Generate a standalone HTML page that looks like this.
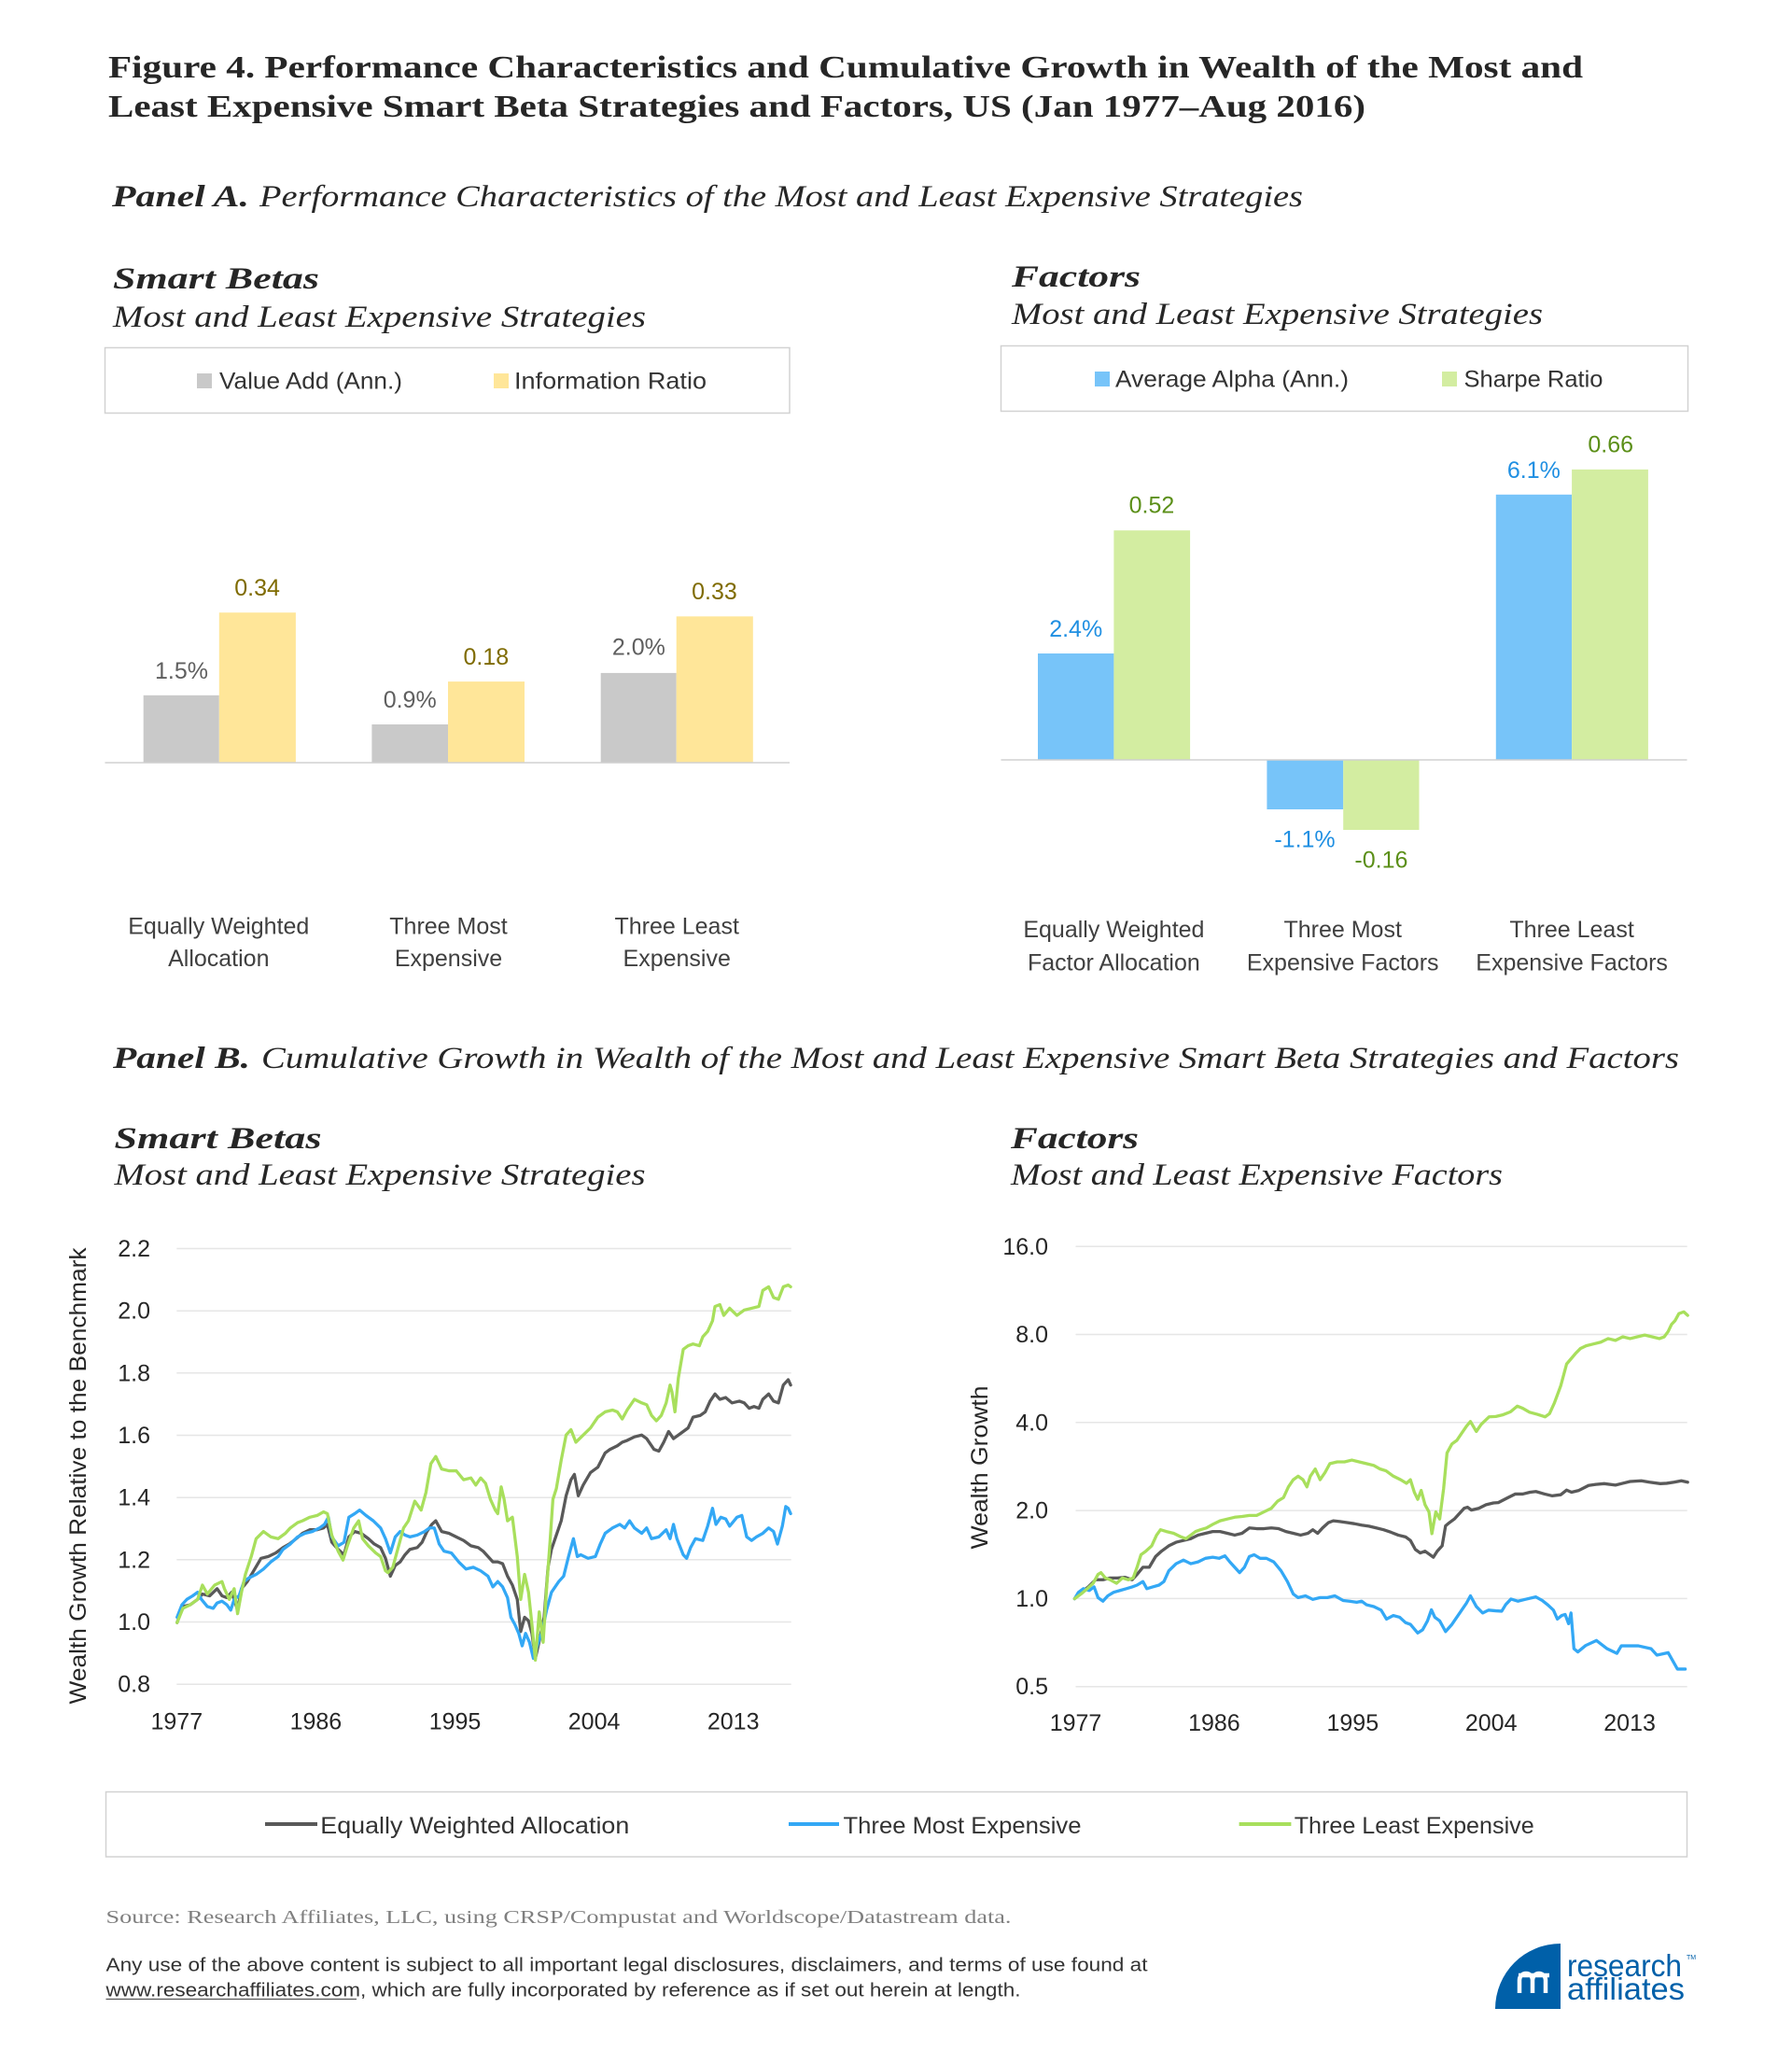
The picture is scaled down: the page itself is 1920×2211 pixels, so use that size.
<!DOCTYPE html>
<html><head><meta charset="utf-8"><style>
html,body{margin:0;padding:0;background:#fff;}
svg{display:block;}
.ser{font-family:"Liberation Serif",serif;fill:#262626;}
.sans{font-family:"Liberation Sans",sans-serif;}
</style></head><body>
<svg width="1920" height="2211" viewBox="0 0 1920 2211" xmlns="http://www.w3.org/2000/svg">
<rect width="1920" height="2211" fill="#fff"/>

<!-- Title -->
<text class="ser" x="116" y="83" font-size="34" font-weight="bold" textLength="1580" lengthAdjust="spacingAndGlyphs">Figure 4. Performance Characteristics and Cumulative Growth in Wealth of the Most and</text>
<text class="ser" x="116" y="125" font-size="34" font-weight="bold" textLength="1347" lengthAdjust="spacingAndGlyphs">Least Expensive Smart Beta Strategies and Factors, US (Jan 1977–Aug 2016)</text>

<!-- Panel A -->
<text class="ser" x="120" y="221" font-size="33" font-weight="bold" font-style="italic" textLength="147" lengthAdjust="spacingAndGlyphs">Panel A.</text>
<text class="ser" x="278" y="221" font-size="33" font-style="italic" textLength="1118" lengthAdjust="spacingAndGlyphs">Performance Characteristics of the Most and Least Expensive Strategies</text>

<text class="ser" x="121" y="309" font-size="33" font-weight="bold" font-style="italic" textLength="221" lengthAdjust="spacingAndGlyphs">Smart Betas</text>
<text class="ser" x="121" y="350" font-size="33" font-style="italic" textLength="571" lengthAdjust="spacingAndGlyphs">Most and Least Expensive Strategies</text>
<text class="ser" x="1084" y="307" font-size="33" font-weight="bold" font-style="italic" textLength="138" lengthAdjust="spacingAndGlyphs">Factors</text>
<text class="ser" x="1084" y="347" font-size="33" font-style="italic" textLength="569" lengthAdjust="spacingAndGlyphs">Most and Least Expensive Strategies</text>

<!-- Legend boxes panel A -->
<rect x="112.5" y="372.5" width="733.5" height="70" fill="#fff" stroke="#d2d2d2" stroke-width="1.5"/>
<rect x="211" y="400" width="16" height="16" fill="#c9c9c9"/>
<text class="sans" x="235" y="416.5" font-size="25" fill="#333" textLength="196" lengthAdjust="spacingAndGlyphs">Value Add (Ann.)</text>
<rect x="529" y="400" width="16" height="16" fill="#ffe699"/>
<text class="sans" x="551" y="416.5" font-size="25" fill="#333" textLength="206" lengthAdjust="spacingAndGlyphs">Information Ratio</text>

<rect x="1072.5" y="370.5" width="736" height="70" fill="#fff" stroke="#d2d2d2" stroke-width="1.5"/>
<rect x="1173" y="398" width="16" height="16" fill="#77c4f9"/>
<text class="sans" x="1195" y="414.5" font-size="25" fill="#333" textLength="250" lengthAdjust="spacingAndGlyphs">Average Alpha (Ann.)</text>
<rect x="1545" y="398" width="16" height="16" fill="#d3eda1"/>
<text class="sans" x="1568.5" y="414.5" font-size="25" fill="#333" textLength="149" lengthAdjust="spacingAndGlyphs">Sharpe Ratio</text>

<!-- Left bar chart -->
<rect x="153.7" y="744.8" width="81.1" height="72.2" fill="#c9c9c9"/>
<rect x="234.8" y="656.2" width="82.1" height="160.8" fill="#ffe699"/>
<rect x="398.4" y="776" width="81.6" height="41" fill="#c9c9c9"/>
<rect x="480" y="730.1" width="82" height="86.9" fill="#ffe699"/>
<rect x="643.7" y="720.9" width="81" height="96.1" fill="#c9c9c9"/>
<rect x="724.7" y="660.3" width="82.1" height="156.7" fill="#ffe699"/>
<line x1="112.5" y1="817" x2="846" y2="817" stroke="#d0d0d0" stroke-width="1.5"/>
<g class="sans" font-size="25" text-anchor="middle">
<text x="194.5" y="727" fill="#5f5f5f">1.5%</text>
<text x="275.6" y="638" fill="#7f6b00">0.34</text>
<text x="439.2" y="758" fill="#5f5f5f">0.9%</text>
<text x="520.8" y="712" fill="#7f6b00">0.18</text>
<text x="684.4" y="701.5" fill="#5f5f5f">2.0%</text>
<text x="765.5" y="642" fill="#7f6b00">0.33</text>
</g>
<g class="sans" font-size="25" text-anchor="middle" fill="#404040">
<text x="234.3" y="1000.5">Equally Weighted</text>
<text x="234.3" y="1035">Allocation</text>
<text x="480.5" y="1000.5">Three Most</text>
<text x="480.5" y="1035">Expensive</text>
<text x="725.2" y="1000.5">Three Least</text>
<text x="725.2" y="1035">Expensive</text>
</g>

<!-- Right bar chart -->
<rect x="1112" y="700" width="81.4" height="114" fill="#77c4f9"/>
<rect x="1193.4" y="568.2" width="81.7" height="245.8" fill="#d3eda1"/>
<rect x="1357.4" y="814" width="81.8" height="53" fill="#77c4f9"/>
<rect x="1439.2" y="814" width="81.3" height="75" fill="#d3eda1"/>
<rect x="1602.8" y="529.8" width="81.3" height="284.2" fill="#77c4f9"/>
<rect x="1684.1" y="502.9" width="81.8" height="311.1" fill="#d3eda1"/>
<line x1="1072.5" y1="814" x2="1807.5" y2="814" stroke="#d0d0d0" stroke-width="1.5"/>
<g class="sans" font-size="25" text-anchor="middle">
<text x="1152.7" y="682" fill="#1f8fe2">2.4%</text>
<text x="1234" y="549.7" fill="#5b8f18">0.52</text>
<text x="1643.4" y="512" fill="#1f8fe2">6.1%</text>
<text x="1725.7" y="484.5" fill="#5b8f18">0.66</text>
<text x="1398" y="907.7" fill="#1f8fe2">-1.1%</text>
<text x="1479.9" y="929.4" fill="#5b8f18">-0.16</text>
</g>
<g class="sans" font-size="25" text-anchor="middle" fill="#404040">
<text x="1193.4" y="1004">Equally Weighted</text>
<text x="1193.4" y="1039.5">Factor Allocation</text>
<text x="1438.7" y="1004">Three Most</text>
<text x="1438.7" y="1039.5">Expensive Factors</text>
<text x="1684.1" y="1004">Three Least</text>
<text x="1684.1" y="1039.5">Expensive Factors</text>
</g>

<!-- Panel B -->
<text class="ser" x="121" y="1144" font-size="33" font-weight="bold" font-style="italic" textLength="147" lengthAdjust="spacingAndGlyphs">Panel B.</text>
<text class="ser" x="280" y="1144" font-size="33" font-style="italic" textLength="1519" lengthAdjust="spacingAndGlyphs">Cumulative Growth in Wealth of the Most and Least Expensive Smart Beta Strategies and Factors</text>
<text class="ser" x="122.5" y="1230" font-size="33" font-weight="bold" font-style="italic" textLength="222" lengthAdjust="spacingAndGlyphs">Smart Betas</text>
<text class="ser" x="122.5" y="1269" font-size="33" font-style="italic" textLength="569" lengthAdjust="spacingAndGlyphs">Most and Least Expensive Strategies</text>
<text class="ser" x="1083" y="1230" font-size="33" font-weight="bold" font-style="italic" textLength="137" lengthAdjust="spacingAndGlyphs">Factors</text>
<text class="ser" x="1083" y="1269" font-size="33" font-style="italic" textLength="527" lengthAdjust="spacingAndGlyphs">Most and Least Expensive Factors</text>

<!-- Left line chart grid -->
<g stroke="#e6e6e6" stroke-width="1.5">
<line x1="189.3" y1="1337.5" x2="847.7" y2="1337.5"/>
<line x1="189.3" y1="1404.2" x2="847.7" y2="1404.2"/>
<line x1="189.3" y1="1470.8" x2="847.7" y2="1470.8"/>
<line x1="189.3" y1="1537.5" x2="847.7" y2="1537.5"/>
<line x1="189.3" y1="1604.2" x2="847.7" y2="1604.2"/>
<line x1="189.3" y1="1670.8" x2="847.7" y2="1670.8"/>
<line x1="189.3" y1="1737.5" x2="847.7" y2="1737.5"/>
<line x1="189.3" y1="1804.2" x2="847.7" y2="1804.2"/>
</g>
<g class="sans" font-size="25" fill="#262626" text-anchor="end">
<text x="161" y="1346">2.2</text>
<text x="161" y="1412.7">2.0</text>
<text x="161" y="1479.3">1.8</text>
<text x="161" y="1546">1.6</text>
<text x="161" y="1612.7">1.4</text>
<text x="161" y="1679.3">1.2</text>
<text x="161" y="1746">1.0</text>
<text x="161" y="1812.7">0.8</text>
</g>
<g class="sans" font-size="25" fill="#262626" text-anchor="middle">
<text x="189.3" y="1852.5">1977</text>
<text x="338.4" y="1852.5">1986</text>
<text x="487.5" y="1852.5">1995</text>
<text x="636.6" y="1852.5">2004</text>
<text x="785.7" y="1852.5">2013</text>
</g>
<text class="sans" font-size="25" fill="#262626" text-anchor="middle" dominant-baseline="central" transform="translate(84,1581) rotate(-90)" textLength="489" lengthAdjust="spacingAndGlyphs">Wealth Growth Relative to the Benchmark</text>

<g transform="matrix(0.523 0 0 0.3827 60 1300)" fill="none" stroke-linejoin="round" stroke-linecap="round">
<polyline vector-effect="non-scaling-stroke" stroke="#595959" stroke-width="3.3" points="248,1145 260,1100 275,1095 290,1080 300,1065 315,1070 330,1050 340,1070 350,1075 360,1060 372,1110 380,1050 392,1030 405,1000 420,965 435,960 450,950 465,935 478,925 492,910 505,895 520,885 535,885 548,880 556,870 565,920 578,940 590,955 600,905 612,890 625,895 640,910 652,925 665,935 675,965 685,1015 695,985 705,975 715,955 725,940 740,935 750,920 760,890 770,870 778,860 790,890 805,895 820,905 835,915 850,930 865,935 875,945 885,960 895,975 905,975 915,980 925,1015 935,1040 945,1080 952,1170 960,1130 968,1140 975,1175 982,1245 992,1185 1000,1130 1008,990 1015,940 1025,900 1035,860 1045,790 1055,745 1062,730 1070,790 1080,760 1095,725 1110,710 1125,670 1135,660 1150,650 1160,640 1170,635 1185,625 1200,620 1210,630 1225,660 1235,665 1245,640 1255,610 1265,630 1280,615 1295,600 1305,570 1320,565 1330,555 1340,525 1350,505 1360,520 1372,515 1385,530 1400,525 1410,530 1420,545 1430,540 1440,545 1448,520 1460,505 1470,525 1480,530 1490,480 1500,465 1505,480"/>
<polyline vector-effect="non-scaling-stroke" stroke="#33a8f5" stroke-width="3.3" points="248,1130 258,1095 268,1080 280,1070 290,1060 298,1080 310,1100 322,1105 330,1090 340,1085 350,1095 358,1110 365,1080 375,1070 385,1030 395,1020 410,1010 425,995 440,975 455,960 465,940 480,925 495,905 510,895 525,890 540,880 550,870 558,850 565,905 578,930 590,920 600,850 612,840 622,830 635,845 650,860 665,880 675,910 685,950 695,905 705,890 715,900 725,905 740,900 755,890 765,880 775,880 785,925 795,945 810,950 825,975 840,995 855,990 870,1000 885,1015 895,1045 905,1030 915,1045 925,1075 932,1130 940,1150 948,1175 955,1210 962,1175 970,1200 978,1245 988,1200 996,1170 1005,1110 1015,1060 1030,1030 1040,1015 1050,960 1060,910 1068,960 1075,955 1090,965 1105,960 1115,925 1125,895 1140,880 1155,870 1165,880 1175,860 1185,880 1200,895 1210,880 1220,910 1235,905 1250,885 1258,910 1265,870 1272,910 1285,955 1292,965 1300,935 1310,910 1325,915 1335,875 1345,825 1352,870 1362,850 1372,855 1380,875 1395,850 1405,845 1415,905 1425,915 1435,905 1448,895 1460,880 1470,890 1478,925 1488,875 1495,820 1500,825 1505,840"/>
<polyline vector-effect="non-scaling-stroke" stroke="#a8df5c" stroke-width="3.3" points="248,1145 260,1105 275,1095 290,1080 300,1040 310,1065 325,1040 340,1030 345,1050 355,1080 365,1050 372,1120 380,1060 388,1010 400,960 410,910 425,890 440,905 455,910 470,895 480,880 495,865 505,860 520,850 535,845 548,835 556,840 565,900 578,945 588,970 597,930 610,880 620,860 628,910 640,930 655,950 665,960 675,1000 680,1005 690,990 700,940 712,880 722,860 735,805 748,830 758,780 768,700 778,680 790,715 805,720 820,720 835,745 850,740 860,760 870,740 880,755 890,800 900,830 905,840 912,765 918,800 925,860 935,850 945,960 952,1080 960,1010 968,1060 975,1150 982,1250 990,1115 998,1200 1005,1050 1012,920 1018,800 1025,770 1035,690 1045,620 1055,605 1065,640 1080,620 1095,600 1110,570 1125,555 1140,550 1150,555 1160,575 1170,550 1185,520 1200,530 1210,535 1220,565 1230,580 1240,565 1250,530 1258,480 1262,500 1268,555 1275,460 1285,380 1295,370 1305,365 1318,370 1325,345 1335,330 1345,300 1350,260 1360,255 1368,285 1380,265 1395,285 1410,270 1425,265 1440,260 1448,215 1460,205 1470,235 1480,240 1490,205 1500,200 1505,205"/>
</g>

<!-- Right line chart grid -->
<g stroke="#e6e6e6" stroke-width="1.5">
<line x1="1152.5" y1="1335.2" x2="1807.7" y2="1335.2"/>
<line x1="1152.5" y1="1429.5" x2="1807.7" y2="1429.5"/>
<line x1="1152.5" y1="1523.8" x2="1807.7" y2="1523.8"/>
<line x1="1152.5" y1="1618.1" x2="1807.7" y2="1618.1"/>
<line x1="1152.5" y1="1712.4" x2="1807.7" y2="1712.4"/>
<line x1="1152.5" y1="1806.7" x2="1807.7" y2="1806.7"/>
</g>
<g class="sans" font-size="25" fill="#262626" text-anchor="end">
<text x="1123" y="1344">16.0</text>
<text x="1123" y="1438">8.0</text>
<text x="1123" y="1532.3">4.0</text>
<text x="1123" y="1626.6">2.0</text>
<text x="1123" y="1721">1.0</text>
<text x="1123" y="1815.2">0.5</text>
</g>
<g class="sans" font-size="25" fill="#262626" text-anchor="middle">
<text x="1152.5" y="1854">1977</text>
<text x="1300.9" y="1854">1986</text>
<text x="1449.3" y="1854">1995</text>
<text x="1597.7" y="1854">2004</text>
<text x="1746.1" y="1854">2013</text>
</g>
<text class="sans" font-size="25" fill="#262626" text-anchor="middle" dominant-baseline="central" transform="translate(1050,1572) rotate(-90)" textLength="175" lengthAdjust="spacingAndGlyphs">Wealth Growth</text>

<g transform="matrix(0.523 0 0 0.3827 1030 1300)" fill="none" stroke-linejoin="round" stroke-linecap="round">
<polyline vector-effect="non-scaling-stroke" stroke="#595959" stroke-width="3.3" points="232,1078 245,1060 260,1045 275,1025 290,1025 305,1020 320,1020 335,1018 350,1025 360,1010 372,990 385,990 398,960 410,945 425,930 440,920 455,915 470,910 485,900 500,895 515,890 530,890 545,895 560,900 575,895 590,880 605,882 620,882 635,880 650,882 665,890 680,895 695,900 710,895 720,885 730,895 740,880 752,865 762,860 775,862 790,865 805,868 820,872 835,875 850,880 865,885 880,892 895,900 910,905 920,915 930,940 940,950 950,945 960,955 967,962 975,945 985,930 992,874 1000,865 1010,855 1020,840 1030,825 1037,822 1045,830 1060,825 1075,815 1090,810 1100,809 1120,795 1135,785 1150,785 1165,780 1177,778 1195,785 1210,790 1228,787 1240,774 1250,780 1265,775 1285,761 1300,758 1317,756 1340,760 1355,755 1370,750 1393,748 1410,752 1432,756 1445,755 1460,752 1475,748 1488,752"/>
<polyline vector-effect="non-scaling-stroke" stroke="#33a8f5" stroke-width="3.3" points="232,1078 240,1060 250,1050 262,1055 272,1045 280,1075 290,1085 300,1070 312,1060 325,1055 338,1050 350,1045 360,1040 372,1030 380,1050 392,1045 405,1040 415,1030 425,1000 440,980 455,970 470,980 485,975 500,965 515,962 528,965 540,958 550,975 560,990 570,1005 580,990 590,960 600,955 612,965 625,965 640,975 655,1000 668,1030 680,1065 690,1075 705,1070 720,1080 735,1075 750,1075 765,1070 782,1083 795,1085 810,1088 820,1085 830,1095 845,1100 860,1110 871,1135 885,1125 898,1130 910,1145 920,1150 935,1174 945,1165 955,1140 963,1109 970,1130 980,1140 992,1170 1005,1150 1015,1130 1025,1110 1035,1090 1043,1070 1055,1100 1068,1118 1080,1110 1095,1112 1107,1113 1115,1095 1126,1079 1140,1085 1155,1080 1177,1073 1190,1083 1202,1096 1213,1110 1221,1135 1230,1125 1237,1122 1244,1148 1249,1118 1255,1218 1263,1227 1279,1209 1301,1195 1323,1218 1343,1231 1352,1210 1387,1210 1413,1218 1425,1236 1448,1229 1467,1275 1483,1275"/>
<polyline vector-effect="non-scaling-stroke" stroke="#a8df5c" stroke-width="3.3" points="232,1078 245,1065 258,1050 270,1035 280,1010 286,1005 295,1020 305,1025 318,1035 330,1020 342,1025 352,1020 360,990 368,955 378,945 390,930 400,900 408,885 420,890 435,895 450,905 460,910 470,900 480,890 490,885 502,880 515,870 530,860 545,855 560,850 575,848 590,845 605,845 620,835 635,825 648,805 660,795 670,765 680,745 690,735 700,745 708,765 715,735 725,715 735,745 745,725 755,700 770,695 785,695 800,690 815,695 830,700 845,705 858,715 870,720 885,735 900,745 912,755 920,745 928,780 935,800 942,775 950,815 958,835 964,896 972,835 980,855 988,770 995,670 1005,645 1015,635 1025,615 1035,595 1043,582 1055,610 1065,590 1081,569 1095,568 1110,563 1125,555 1139,539 1150,545 1164,556 1180,562 1196,569 1205,560 1215,530 1228,482 1240,421 1250,405 1258,392 1268,378 1280,370 1295,365 1310,360 1325,350 1340,355 1355,345 1370,350 1385,345 1400,340 1415,345 1430,350 1440,345 1448,330 1455,310 1462,300 1470,280 1480,275 1488,285"/>
</g>

<!-- Bottom legend -->
<rect x="113.5" y="1919.5" width="1694" height="69.5" fill="#fff" stroke="#d2d2d2" stroke-width="1.5"/>
<line x1="284" y1="1954" x2="340" y2="1954" stroke="#595959" stroke-width="4"/>
<text class="sans" x="343.3" y="1964" font-size="25" fill="#333" textLength="331" lengthAdjust="spacingAndGlyphs">Equally Weighted Allocation</text>
<line x1="845" y1="1954" x2="899" y2="1954" stroke="#33a8f5" stroke-width="4"/>
<text class="sans" x="903.5" y="1964" font-size="25" fill="#333" textLength="255" lengthAdjust="spacingAndGlyphs">Three Most Expensive</text>
<line x1="1327.6" y1="1954" x2="1383.4" y2="1954" stroke="#a8df5c" stroke-width="4"/>
<text class="sans" x="1386.7" y="1964" font-size="25" fill="#333" textLength="257" lengthAdjust="spacingAndGlyphs">Three Least Expensive</text>

<!-- Footer -->
<text x="113.5" y="2060" font-family="Liberation Serif, serif" font-size="20" fill="#7f7f7f" textLength="970" lengthAdjust="spacingAndGlyphs">Source: Research Affiliates, LLC, using CRSP/Compustat and Worldscope/Datastream data.</text>
<text class="sans" x="113.5" y="2111.5" font-size="20" fill="#333" textLength="1116" lengthAdjust="spacingAndGlyphs">Any use of the above content is subject to all important legal disclosures, disclaimers, and terms of use found at</text>
<text class="sans" x="113.5" y="2138.3" font-size="20" fill="#333" textLength="980" lengthAdjust="spacingAndGlyphs">www.researchaffiliates.com, which are fully incorporated by reference as if set out herein at length.</text>
<line x1="113.5" y1="2141.5" x2="382" y2="2141.5" stroke="#555" stroke-width="1.3"/>

<!-- Logo -->
<path d="M1602,2152 A70,70 0 0 1 1672,2082 L1672,2152 Z" fill="#0060a9"/>
<path d="M1628,2135 V2121 a7,7 0 0 1 14,0 V2135 M1642,2121 a7,7 0 0 1 14,0 V2135 M1627,2116 h33" stroke="#fff" stroke-width="4.5" fill="none"/>
<text class="sans" x="1679" y="2117" font-size="33" fill="#0060a9" textLength="123" lengthAdjust="spacingAndGlyphs">research</text>
<text class="sans" x="1679" y="2142" font-size="33" fill="#0060a9" textLength="126" lengthAdjust="spacingAndGlyphs">affiliates</text>
<text class="sans" x="1807" y="2099" font-size="7" fill="#0060a9">TM</text>
</svg>
</body></html>
